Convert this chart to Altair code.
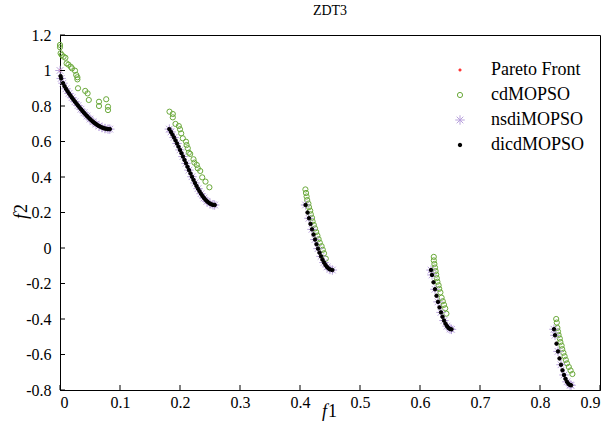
import altair as alt
import pandas as pd

# ---- ZDT3 true Pareto front (five disconnected pieces) ----
pf_f1 = [
    0.0, 0.002, 0.005, 0.0075, 0.01, 0.0125, 0.015, 0.0175, 0.02, 0.0225, 0.025,
    0.0275, 0.03, 0.0325, 0.035, 0.0375, 0.04, 0.0425, 0.045, 0.0475, 0.05,
    0.0525, 0.055, 0.0575, 0.06, 0.0625, 0.065, 0.0675, 0.07, 0.0725, 0.075,
    0.0775, 0.08, 0.083,
    0.1822, 0.185, 0.1875, 0.19, 0.1925, 0.195, 0.1975, 0.2, 0.2025, 0.205,
    0.2075, 0.21, 0.2125, 0.215, 0.2175, 0.22, 0.2225, 0.225, 0.2275, 0.23,
    0.2325, 0.235, 0.2375, 0.24, 0.2425, 0.245, 0.2475, 0.25, 0.2525, 0.255, 0.2578,
    0.4093, 0.4125, 0.415, 0.4175, 0.42, 0.4225, 0.425, 0.4275, 0.43, 0.4325,
    0.435, 0.4375, 0.44, 0.4425, 0.445, 0.4475, 0.45, 0.4539,
    0.6184, 0.62, 0.6225, 0.625, 0.6275, 0.63, 0.6325, 0.635, 0.6375, 0.64,
    0.6425, 0.645, 0.6475, 0.65, 0.6525,
    0.8233, 0.825, 0.8275, 0.83, 0.8325, 0.835, 0.8375, 0.84, 0.8425, 0.845,
    0.8475, 0.85, 0.8518,
]
pf_f2 = [
    1.0, 0.9552, 0.9285, 0.9117, 0.8969, 0.8834, 0.8707, 0.8586, 0.8468, 0.8354, 0.8242,
    0.8133, 0.8025, 0.7920, 0.7817, 0.7717, 0.7620, 0.7525, 0.7434, 0.7347, 0.7264,
    0.7185, 0.7112, 0.7043, 0.6980, 0.6923, 0.6871, 0.6826, 0.6788, 0.6756, 0.6731,
    0.6713, 0.6701, 0.6697,
    0.6698, 0.6539, 0.6387, 0.6228, 0.6062, 0.5889, 0.5711, 0.5528, 0.5341, 0.5152,
    0.4960, 0.4769, 0.4577, 0.4387, 0.4200, 0.4016, 0.3838, 0.3666, 0.3500, 0.3344,
    0.3196, 0.3058, 0.2932, 0.2818, 0.2717, 0.2630, 0.2558, 0.25, 0.2458, 0.2432, 0.2422,
    0.2424, 0.1999, 0.1674, 0.1357, 0.1050, 0.0756, 0.0476, 0.0211, -0.0036, -0.0264,
    -0.0471, -0.0656, -0.0818, -0.0955, -0.1066, -0.1151, -0.1208, -0.1242,
    -0.1243, -0.1518, -0.1932, -0.2325, -0.2693, -0.3034, -0.3346, -0.3627, -0.3874, -0.4087,
    -0.4263, -0.4402, -0.4502, -0.4562, -0.4583,
    -0.4577, -0.4917, -0.5389, -0.5825, -0.6222, -0.6578, -0.6889, -0.7154, -0.7371, -0.7539,
    -0.7655, -0.7720, -0.7734,
]

# ---- cdMOPSO solutions ----
cd_f1 = [
    0.0, 0.0, 0.001, 0.003, 0.006, 0.009, 0.011, 0.014, 0.018, 0.020, 0.025, 0.027,
    0.029, 0.029, 0.030, 0.042, 0.046, 0.048, 0.065, 0.065, 0.077, 0.080, 0.080,
    0.1825, 0.188, 0.188, 0.1925, 0.198, 0.200, 0.202, 0.2047, 0.210, 0.211, 0.213,
    0.2147, 0.217, 0.2225, 0.224, 0.228, 0.2297, 0.2337, 0.237, 0.2425, 0.249,
    0.409, 0.410, 0.411, 0.412, 0.414, 0.415, 0.417, 0.418, 0.420, 0.421, 0.423,
    0.425, 0.427, 0.429, 0.431, 0.433, 0.436, 0.438, 0.440, 0.443,
    0.623, 0.623, 0.624, 0.625, 0.626, 0.627, 0.628, 0.629, 0.631, 0.632, 0.634,
    0.636, 0.638, 0.640, 0.642, 0.644,
    0.827, 0.828, 0.829, 0.830, 0.831, 0.833, 0.834, 0.836, 0.837, 0.839, 0.841,
    0.843, 0.845, 0.848, 0.851, 0.854,
]
cd_f2 = [
    1.144, 1.131, 1.097, 1.087, 1.078, 1.072, 1.040, 1.033, 1.021, 1.012, 0.999, 0.975,
    0.962, 0.950, 0.900, 0.885, 0.871, 0.834, 0.824, 0.800, 0.838, 0.796, 0.777,
    0.768, 0.755, 0.736, 0.699, 0.687, 0.669, 0.646, 0.618, 0.599, 0.580, 0.562,
    0.537, 0.530, 0.500, 0.481, 0.468, 0.449, 0.434, 0.398, 0.374, 0.342,
    0.33, 0.31, 0.29, 0.27, 0.25, 0.23, 0.21, 0.19, 0.17, 0.15, 0.13,
    0.11, 0.09, 0.07, 0.05, 0.03, 0.01, -0.01, -0.03, -0.06,
    -0.05, -0.07, -0.09, -0.11, -0.13, -0.15, -0.17, -0.19, -0.21, -0.23, -0.25,
    -0.28, -0.30, -0.32, -0.34, -0.37,
    -0.40, -0.42, -0.45, -0.47, -0.49, -0.51, -0.53, -0.55, -0.57, -0.59, -0.61,
    -0.63, -0.65, -0.67, -0.69, -0.71,
]

# ---- nsdiMOPSO solutions ----
nsdi_f1 = [
    0.0, 0.002, 0.005, 0.01, 0.015, 0.02, 0.025, 0.03, 0.035, 0.04, 0.045, 0.05,
    0.055, 0.06, 0.065, 0.07, 0.075, 0.08, 0.083,
    0.1822, 0.185, 0.19, 0.195, 0.2, 0.205, 0.21, 0.215, 0.22, 0.225, 0.23, 0.235,
    0.24, 0.245, 0.25, 0.255, 0.2578,
    0.4093, 0.415, 0.42, 0.425, 0.43, 0.435, 0.44, 0.445, 0.45, 0.4539,
    0.6184, 0.62, 0.625, 0.63, 0.635, 0.64, 0.645, 0.65, 0.6525,
    0.8233, 0.825, 0.83, 0.835, 0.84, 0.845, 0.85, 0.8518,
]
nsdi_f2 = [
    1.0, 0.9552, 0.9285, 0.8969, 0.8707, 0.8468, 0.8242, 0.8025, 0.7817, 0.7620, 0.7434, 0.7264,
    0.7112, 0.6980, 0.6871, 0.6788, 0.6731, 0.6701, 0.6697,
    0.6698, 0.6539, 0.6228, 0.5889, 0.5528, 0.5152, 0.4769, 0.4387, 0.4016, 0.3666, 0.3344, 0.3058,
    0.2818, 0.2630, 0.25, 0.2432, 0.2422,
    0.2424, 0.1674, 0.1050, 0.0476, -0.0036, -0.0471, -0.0818, -0.1066, -0.1208, -0.1242,
    -0.1243, -0.1518, -0.2325, -0.3034, -0.3627, -0.4087, -0.4402, -0.4562, -0.4583,
    -0.4577, -0.4917, -0.5825, -0.6578, -0.7154, -0.7539, -0.7720, -0.7734,
]

# ---- dicdMOPSO solutions ----
dicd_f1 = [0.001] + pf_f1[1:]
dicd_f2 = [0.9683] + pf_f2[1:]

series = ["Pareto Front", "cdMOPSO", "nsdiMOPSO", "dicdMOPSO"]
x_ticks = [0, 0.1, 0.2, 0.3, 0.4, 0.5, 0.6, 0.7, 0.8, 0.9]
y_ticks = [-0.8, -0.6, -0.4, -0.2, 0, 0.2, 0.4, 0.6, 0.8, 1.0, 1.2]

rows = []
for name, xs, ys in [
    ("Pareto Front", pf_f1, pf_f2),
    ("cdMOPSO", cd_f1, cd_f2),
    ("nsdiMOPSO", nsdi_f1, nsdi_f2),
    ("dicdMOPSO", dicd_f1, dicd_f2),
]:
    for a, b in zip(xs, ys):
        rows.append({"f1": a, "f2": b, "series": name})
df = pd.DataFrame(rows)

FONT = "Liberation Serif"
ASTERISK = "M-1,0L1,0M0,-1L0,1M-0.7,-0.7L0.7,0.7M-0.7,0.7L0.7,-0.7"
W, H = 540, 355

label_expr = ("datum.value < 0 ? '-' + format(-datum.value, '~g') "
              ": format(datum.value, '~g')")

x_scale = alt.Scale(domain=[0, 0.9], nice=False, zero=False)
y_scale = alt.Scale(domain=[-0.8, 1.2], nice=False, zero=False)

x_axis = alt.Axis(values=x_ticks, ticks=False, grid=False, title=None,
                  labelExpr=label_expr, labelFont=FONT, labelFontSize=16,
                  labelColor="black", labelPadding=4,
                  domainColor="black", domainWidth=1)
y_axis = alt.Axis(values=y_ticks, ticks=False, grid=False, title=None,
                  labelExpr=label_expr, labelFont=FONT, labelFontSize=16,
                  labelColor="black", labelPadding=9,
                  domainColor="black", domainWidth=1)


def legend():
    return alt.Legend(
        title=None, orient="none", legendX=391, legendY=26,
        labelFont=FONT, labelFontSize=18, labelColor="black",
        labelOffset=22, rowPadding=7, symbolStrokeWidth=1,
    )


points = alt.Chart(df).mark_point(opacity=1, strokeWidth=1).encode(
    x=alt.X("f1:Q", scale=x_scale, axis=x_axis),
    y=alt.Y("f2:Q", scale=y_scale, axis=y_axis),
    shape=alt.Shape("series:N", sort=series,
                    scale=alt.Scale(domain=series,
                                    range=["circle", "circle", ASTERISK, "circle"]),
                    legend=legend()),
    stroke=alt.Stroke("series:N", sort=series,
                      scale=alt.Scale(domain=series,
                                      range=["#ff2a2a", "#6aa93a", "#b9a2dd", "#000000"]),
                      legend=legend()),
    fill=alt.Fill("series:N", sort=series,
                  scale=alt.Scale(domain=series,
                                  range=["#ff2a2a", "transparent", "#b9a2dd", "#000000"]),
                  legend=legend()),
    size=alt.Size("series:N", sort=series,
                  scale=alt.Scale(type="ordinal", domain=series, range=[5, 27, 90, 12]),
                  legend=legend()),
)

# inward tick marks
xt = alt.Chart(pd.DataFrame({"t": x_ticks})).mark_rule(color="black", strokeWidth=1).encode(
    x=alt.X("t:Q", scale=x_scale, axis=x_axis),
    y=alt.value(H), y2=alt.value(H - 5),
)
yt = alt.Chart(pd.DataFrame({"t": y_ticks})).mark_rule(color="black", strokeWidth=1).encode(
    y=alt.Y("t:Q", scale=y_scale, axis=y_axis),
    x=alt.value(0), x2=alt.value(5),
)

one = pd.DataFrame({"k": [0]})


def txt(s, x, y, align, italic, angle=0):
    return alt.Chart(one).mark_text(
        font=FONT, fontSize=18, color="black", align=align, baseline="middle",
        fontStyle="italic" if italic else "normal", angle=angle,
    ).encode(x=alt.value(x), y=alt.value(y), text=alt.value(s))


titles = [
    txt("f", 267, H + 22, "right", True),
    txt("1", 268, H + 22, "left", False),
    txt("f", -38, 179, "right", True, 270),
    txt("2", -38, 178, "left", False, 270),
]

chart = alt.layer(points, xt, yt, *titles).properties(
    width=W, height=H,
    title=alt.TitleParams("ZDT3", font=FONT, fontSize=14, fontWeight="normal",
                          color="black", anchor="middle", offset=9),
    autosize=alt.AutoSizeParams(type="none"),
    padding={"left": 60, "top": 35, "right": 13, "bottom": 48},
).configure(
    background="white", font=FONT
).configure_view(
    stroke="black", strokeWidth=1
).configure_axis(
    labelFont=FONT, labelFontSize=16, labelColor="black"
).configure_title(
    font=FONT, fontWeight="normal", fontSize=14, color="black"
)

chart.save("out.html", embed_options={"renderer": "svg", "actions": False})
